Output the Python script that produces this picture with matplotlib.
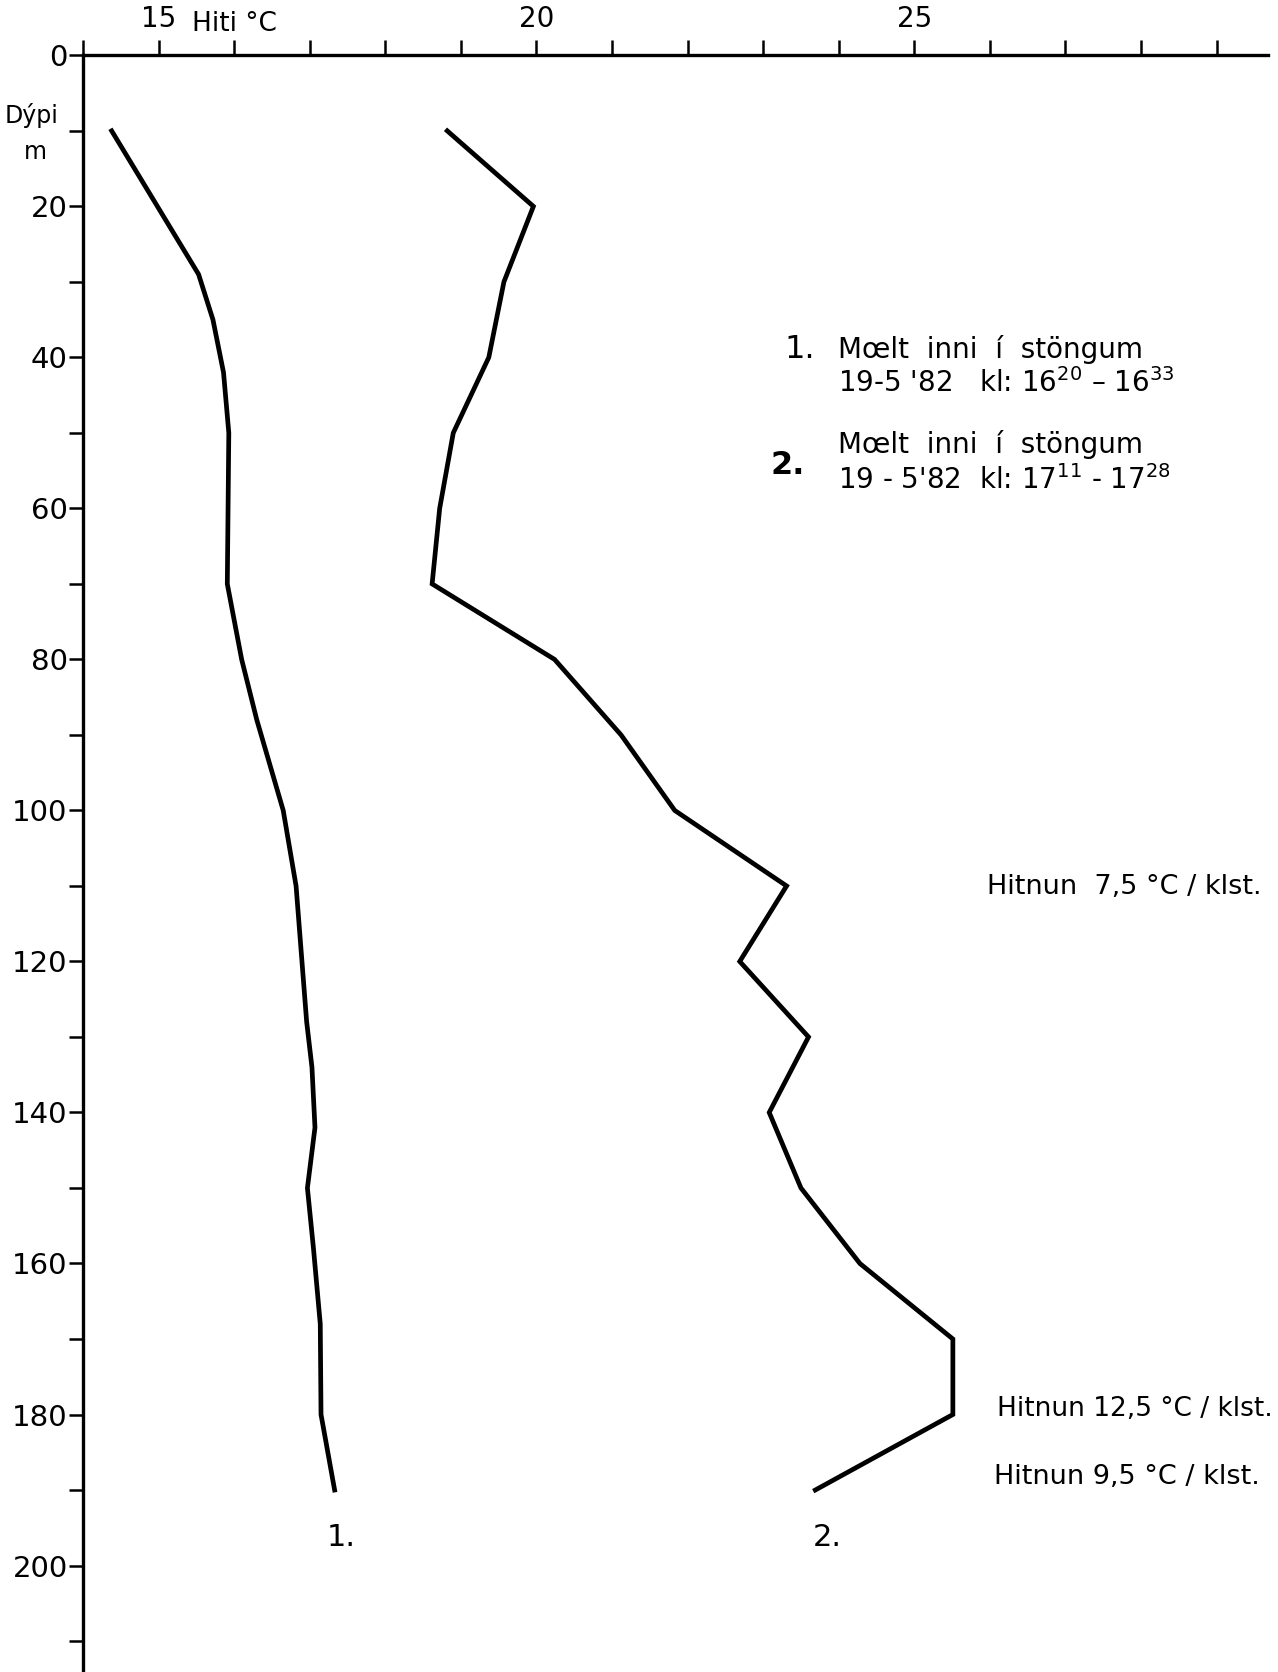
import matplotlib
matplotlib.use("Agg")
import matplotlib.pyplot as plt
from matplotlib.ticker import FixedLocator, FixedFormatter, NullFormatter

# Profile 1: depth (m) and temperature (°C)
depth_1 = [10, 29, 35, 42, 50, 70, 80, 88, 100, 110, 128, 134, 142, 150, 158, 168, 180, 190]
temp_1 = [14.38, 15.53, 15.72, 15.86, 15.93, 15.91, 16.10, 16.30, 16.65, 16.82,
          16.96, 17.03, 17.07, 16.97, 17.05, 17.14, 17.15, 17.33]

# Profile 2
depth_2 = [10, 20, 30, 40, 50, 60, 70, 80, 90, 100, 110, 120, 130, 140, 150, 160, 170, 180, 190]
temp_2 = [18.82, 19.96, 19.57, 19.37, 18.90, 18.72, 18.62, 20.24, 21.12, 21.83,
          23.31, 22.69, 23.60, 23.08, 23.50, 24.28, 25.51, 25.51, 23.69]

temp_ticks = list(range(14, 30))
temp_labels = ['15', '20', '25']
depth_major = list(range(0, 201, 20))
depth_minor = list(range(10, 211, 20))

plt.rcParams['font.family'] = ['DejaVu Sans']
plt.rcParams['mathtext.default'] = 'regular'

fig = plt.figure(figsize=(12.78, 16.72), dpi=100)
ax = fig.add_axes([0.0649, 0.0, 0.9273, 0.9669])

ax.plot(temp_1, depth_1, color='black', lw=3.4, solid_joinstyle='miter')
ax.plot(temp_2, depth_2, color='black', lw=3.4, solid_joinstyle='miter')

ax.set_xlim(14, 29.68)
ax.set_ylim(214.1, 0)

for side in ['right', 'bottom']:
    ax.spines[side].set_visible(False)
for side in ['top', 'left']:
    ax.spines[side].set_linewidth(2.4)

ax.xaxis.tick_top()
ax.xaxis.set_major_locator(FixedLocator(temp_ticks))
ax.xaxis.set_major_formatter(FixedFormatter(
    [str(t) if str(t) in temp_labels else '' for t in temp_ticks]))
ax.tick_params(axis='x', which='major', direction='out', length=11, width=1.8,
               labelsize=20, pad=5)

ax.yaxis.set_major_locator(FixedLocator(depth_major))
ax.yaxis.set_minor_locator(FixedLocator(depth_minor))
ax.yaxis.set_minor_formatter(NullFormatter())
ax.tick_params(axis='y', which='both', direction='out', length=10, width=1.8,
               labelsize=21, pad=1)

ax.text(15.44, -4.2, 'Hiti °C', fontsize=19, ha='left', va='center', clip_on=False)
fig.text(0.025, 0.931, 'Dýpi', fontsize=17, ha='center', va='center')
fig.text(0.028, 0.909, 'm', fontsize=17, ha='center', va='center')

# curve labels
ax.text(17.42, 196.3, '1.', fontsize=22, ha='center', va='center')
ax.text(23.85, 196.3, '2.', fontsize=22, ha='center', va='center')

# legend block
ax.text(23.28, 38.9, '1.', fontsize=23, ha='left', va='center')
ax.text(23.99, 39.0, 'Mœlt  inni  í  stöngum', fontsize=20, ha='left', va='center')
ax.text(23.99, 43.4, "19-5 '82   kl: 16$^{20}$ – 16$^{33}$", fontsize=20, ha='left', va='center')
ax.text(23.1, 54.3, '2.', fontsize=23, fontweight='bold', ha='left', va='center')
ax.text(23.99, 51.6, 'Mœlt  inni  í  stöngum', fontsize=20, ha='left', va='center')
ax.text(23.99, 56.2, "19 - 5'82  kl: 17$^{11}$ - 17$^{28}$", fontsize=20, ha='left', va='center')

# heating rates
ax.text(25.96, 110.1, 'Hitnun  7,5 °C / klst.', fontsize=19.5, ha='left', va='center')
ax.text(26.1, 179.3, 'Hitnun 12,5 °C / klst.', fontsize=19, ha='left', va='center')
ax.text(26.06, 188.3, 'Hitnun 9,5 °C / klst.', fontsize=19.5, ha='left', va='center')

fig.savefig('out.png', dpi=100, facecolor='white')
